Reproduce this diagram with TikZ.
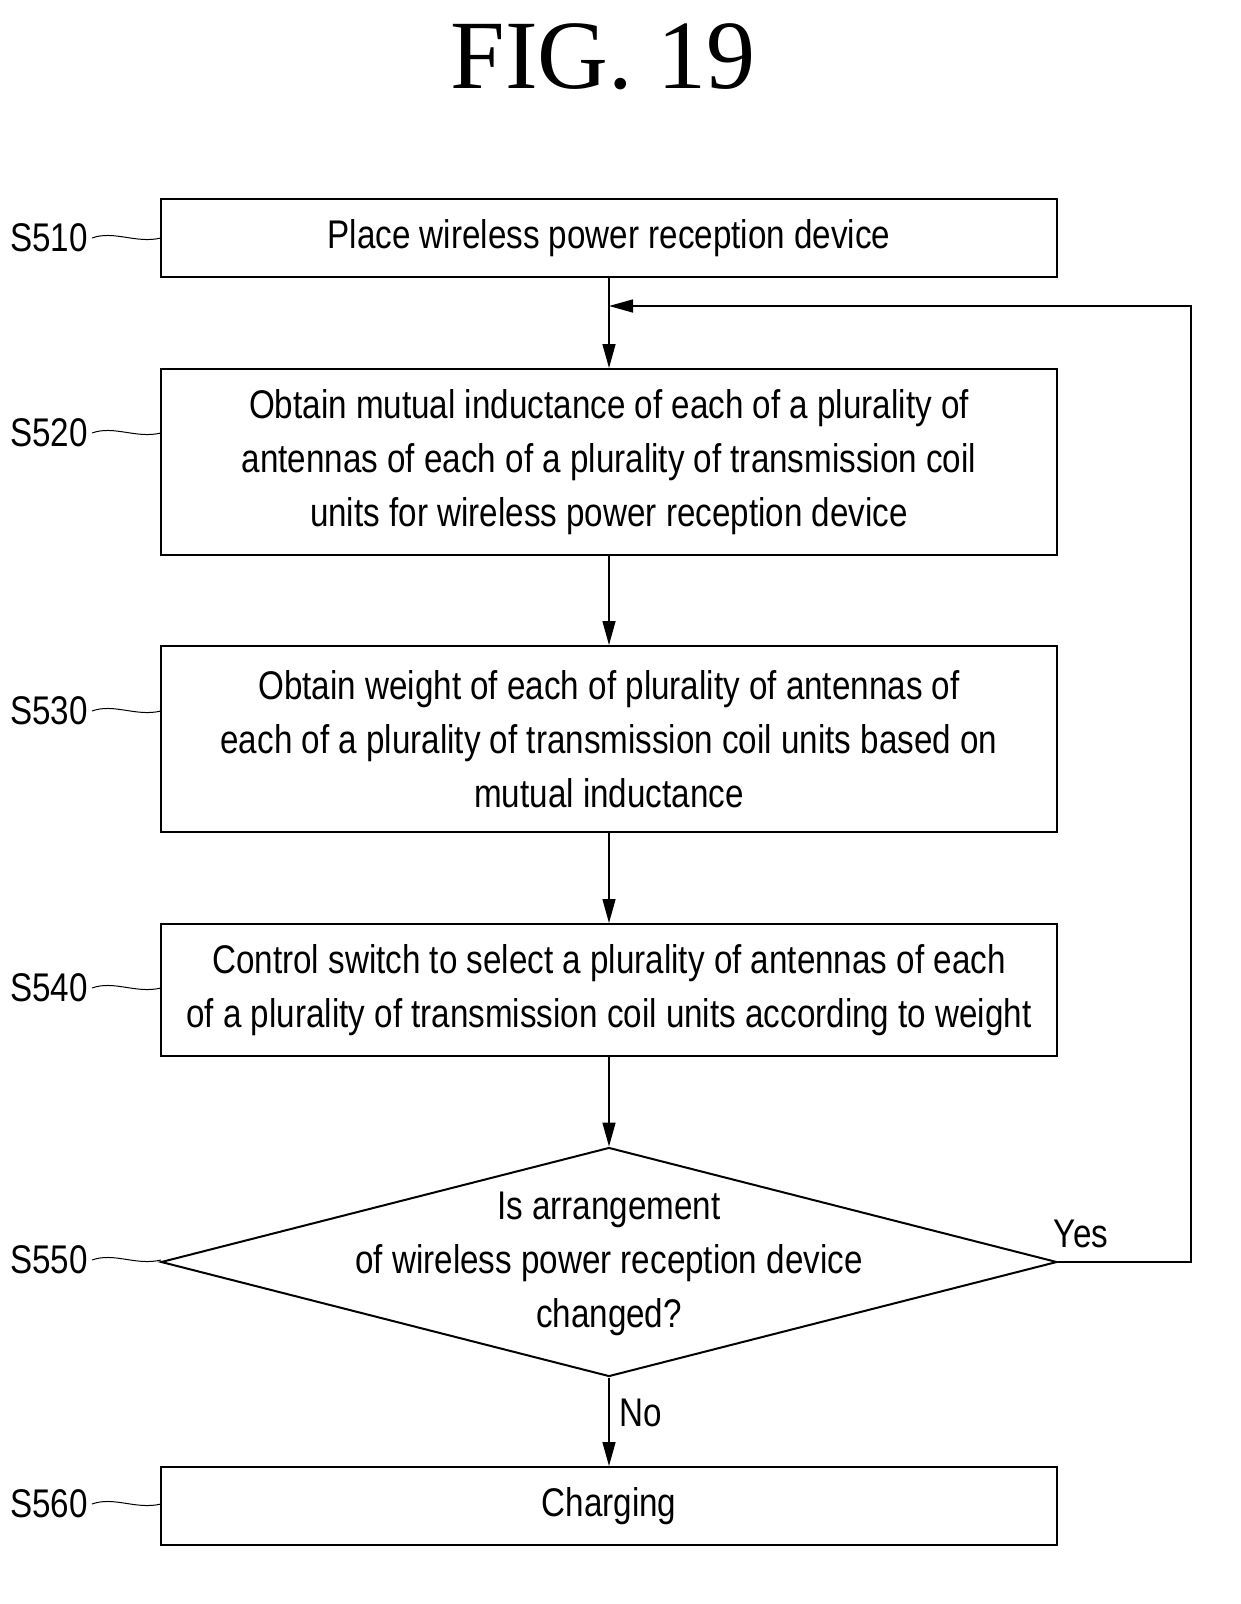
\documentclass[tikz,border=0pt]{standalone}
\usepackage{fontspec}
\setmainfont{Liberation Sans}[FakeStretch=0.83]
\newfontfamily\titlefont{Liberation Serif}
\usetikzlibrary{shapes.geometric,arrows.meta}
\tikzset{
  stepbox/.style={draw,line width=2pt,minimum width=896pt,align=center,font=\fontsize{40}{54}\selectfont,inner sep=0pt},
  lbl/.style={font=\fontsize{40}{44}\selectfont,anchor=east,inner sep=0pt},
  flow/.style={line width=1.5pt,-{Triangle[length=24pt,width=13pt]}},
  lead/.style={line width=1pt}
}
\begin{document}
\begin{tikzpicture}[x=1pt,y=-1pt]
\useasboundingbox (0,0) rectangle (1240,1604);

% title
\node (title) at (603,57) {\titlefont\fontsize{98}{100}\selectfont FIG. 19};

% steps
\node[stepbox,minimum height=78pt] (s510) at (609,238) {Place wireless power reception device};
\node[stepbox,minimum height=186pt] (s520) at (609,462) {Obtain mutual inductance of each of a plurality of\\antennas of each of a plurality of transmission coil\\units for wireless power reception device};
\node[stepbox,minimum height=186pt] (s530) at (609,739) {Obtain weight of each of plurality of antennas of\\each of a plurality of transmission coil units based on\\mutual inductance};
\node[stepbox,minimum height=132pt] (s540) at (609,990) {Control switch to select a plurality of antennas of each\\of a plurality of transmission coil units according to weight};
\node[draw,diamond,aspect=3.9,line width=2pt,minimum width=896pt,minimum height=229pt,inner sep=0pt] (s550) at (609,1262) {};
\node[align=center,font=\fontsize{40}{54}\selectfont] (q) at (609,1264) {Is arrangement\\of wireless power reception device\\changed?};
\node[stepbox,minimum height=78pt] (s560) at (609,1506) {Charging};

% step labels
\foreach \n/\y in {510/238,520/433,530/711,540/988,550/1260,560/1504}{
  \node[lbl] (l\n) at (88,\y) {S\n};
  \draw[lead] ([xshift=4pt]l\n.east) .. controls (114,\y-8) and (136,\y+6) .. (161,\y);
}

% connectors
\coordinate (join) at (609,306);
\coordinate (c1) at (1191,1262);
\coordinate (c2) at (1191,306);
\draw[line width=1.5pt] (s510) -- (join);
\draw[flow] (join) -- (s520);
\draw[flow] (s520) -- (s530);
\draw[flow] (s530) -- (s540);
\draw[flow] (s540) -- (s550.north);
\draw[flow] (s550.south) -- (s560) node[pos=0.4,right=6pt,font=\fontsize{40}{44}\selectfont] (no) {No};
\draw[flow] (s550.east) -- (c1) -- (c2) -- (join);
\node[font=\fontsize{40}{44}\selectfont] (yes) at (1081,1234) {Yes};
\end{tikzpicture}
\end{document}
